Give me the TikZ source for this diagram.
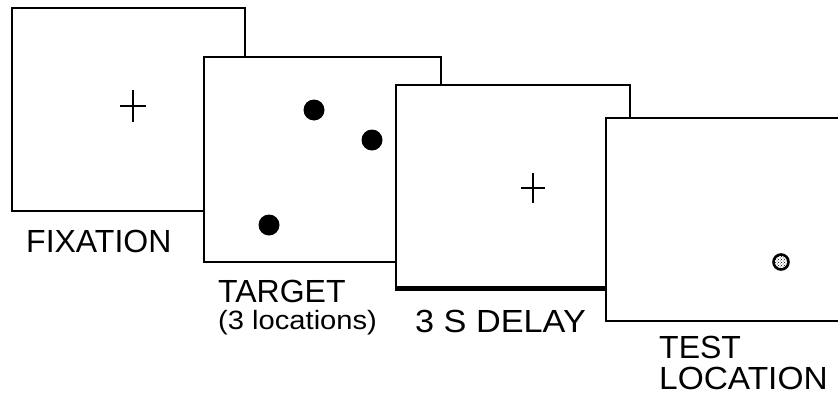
\documentclass[tikz,border=0pt]{standalone}
\usepackage{fontspec}
\setmainfont{Liberation Sans}
\usetikzlibrary{patterns}
\begin{document}
\begin{tikzpicture}[x=1pt,y=-1pt,
  frame/.style={draw=black,fill=white,line width=2pt},
  lbl/.style={anchor=base west,inner sep=0pt,font=\fontsize{32}{38}\selectfont},
  spot/.style={fill=black},
  crossmark/.style={line width=2pt}]
\useasboundingbox (0,0) rectangle (838,399);
\fill[white] (0,0) rectangle (838,399);
\begin{scope}
\clip (0,0) rectangle (838,399);
% frame 1: fixation
\draw[frame] (12,8) rectangle (245,211);
\draw[crossmark] (120,106) -- (146,106) (133,90) -- (133,122);
% frame 2: target
\draw[frame] (204,57) rectangle (441,262);
\fill[spot] (314,110) circle (10.5);
\fill[spot] (372,140) circle (10.5);
\fill[spot] (269,225) circle (10.5);
% frame 3: delay
\draw[frame] (396,85) rectangle (630,289);
\draw[line width=4.5pt] (395,288.5) -- (631,288.5);
\draw[crossmark] (521,188) -- (545,188) (533,173) -- (533,203);
% frame 4: test location
\draw[frame] (606,118) rectangle (860,321);
\draw[line width=2.6pt,pattern=crosshatch dots] (781,262) circle (7.5);
\end{scope}
\node[lbl] (fix) at (26,252) {FIXATION};
\node[lbl] (tgt) at (218,302) {TARGET};
\node[lbl,font=\fontsize{26.5}{30}\selectfont,xscale=1.1] (loc3) at (218,329) {(3 locations)};
\node[lbl,xscale=1.07] (delay) at (415,332) {3 S DELAY};
\node[lbl] (test) at (659,358) {TEST};
\node[lbl,xscale=1.045] (locn) at (659,389) {LOCATION};
\end{tikzpicture}
\end{document}
